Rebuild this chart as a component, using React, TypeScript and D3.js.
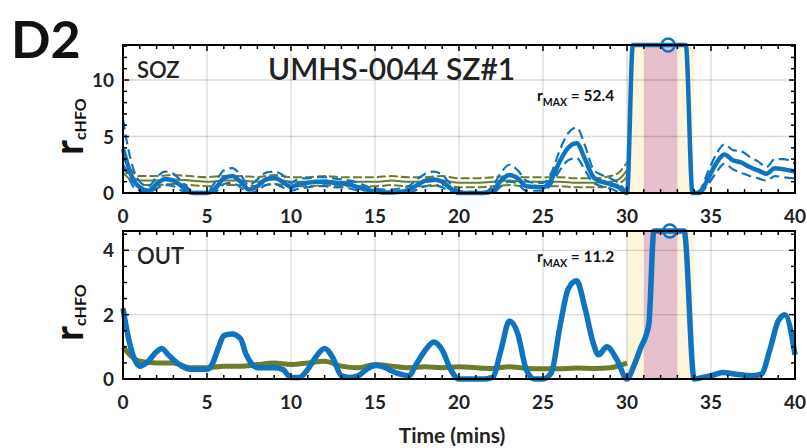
import React from "react";
import * as d3 from "d3";

// time axis (mins)
const X_TICKS = [0, 5, 10, 15, 20, 25, 30, 35, 40];

// SOZ channel, normalised cHFO rate + bounds (clipped at rMAX/4)
const SOZ_T = [
  0, 0.3, 0.6, 1, 1.5, 2, 2.5, 3, 3.5, 4,
  4.5, 5, 5.5, 6, 6.5, 7, 7.5, 8, 8.5, 9,
  9.5, 10, 10.5, 11, 11.5, 12, 12.5, 13, 13.5, 14,
  14.5, 15, 15.5, 16, 16.5, 17, 17.5, 18, 18.5, 19,
  19.5, 20, 20.5, 21, 21.5, 22, 22.5, 23, 23.5, 24,
  24.5, 25, 25.5, 26, 26.5, 27, 27.5, 28, 28.5, 29,
  29.5, 30, 30.35, 31, 32, 33, 33.5, 33.9, 34.3, 34.8,
  35.3, 35.8, 36.3, 36.8, 37.3, 37.8, 38.3, 38.8, 39.3, 40,
];
const SOZ_MEAN = [
  3.9, 2.4, 1.2, 0.5, 0.2, 0.8, 1.25, 1.1, 0.6, 0.05,
  0, 0, 0.4, 1.3, 1.5, 1.0, 0.3, 0.6, 1.2, 1.35,
  1.0, 0.55, 0.8, 0.9, 1.0, 1.0, 0.9, 0.85, 0.75, 0.5,
  0.3, 0.15, 0.05, 0.05, 0.1, 0.25, 0.7, 1.1, 1.2, 1.0,
  0.4, 0, 0, 0, 0, 0.2, 1.1, 1.6, 1.3, 0.6,
  0.55, 0.5, 1.2, 2.8, 4.0, 4.4, 3.0, 1.4, 1.0, 0.8,
  0.5, 0, 13.1, 13.1, 13.1, 13.1, 13.1, 0, 0, 1.2,
  2.6, 3.4, 2.9, 2.7, 2.3, 2.0, 1.7, 2.2, 2.1, 1.9,
];
const SOZ_HI = [
  6.5, 4.0, 2.2, 1.0, 0.6, 1.4, 1.9, 1.7, 1.0, 0.3,
  0.1, 0.1, 1.0, 2.0, 2.2, 1.6, 0.7, 1.2, 1.8, 1.9,
  1.6, 0.9, 1.3, 1.3, 1.4, 1.4, 1.3, 1.2, 1.1, 0.9,
  0.6, 0.4, 0.3, 0.3, 0.4, 0.6, 1.2, 1.7, 1.9, 1.6,
  0.8, 0.2, 0.1, 0.1, 0.1, 0.6, 1.8, 2.5, 2.0, 1.1,
  0.9, 0.9, 1.8, 3.8, 5.3, 5.8, 4.2, 2.1, 1.6, 1.3,
  0.9, 0.2, 13.1, 13.1, 13.1, 13.1, 13.1, 0, 0.2, 1.8,
  3.4, 4.3, 3.8, 3.7, 3.2, 2.8, 2.3, 3.0, 3.0, 2.6,
];
const SOZ_LO = [
  2.5, 1.5, 0.6, 0.2, 0, 0.4, 0.7, 0.6, 0.2, 0,
  0, 0, 0.1, 0.8, 0.9, 0.5, 0, 0.2, 0.7, 0.8,
  0.5, 0.2, 0.4, 0.5, 0.6, 0.6, 0.5, 0.5, 0.4, 0.2,
  0, 0, 0, 0, 0, 0, 0.3, 0.6, 0.7, 0.5,
  0.1, 0, 0, 0, 0, 0, 0.6, 1.0, 0.8, 0.2,
  0.2, 0.2, 0.8, 2.0, 2.9, 3.1, 2.0, 0.9, 0.6, 0.4,
  0.1, 0, 13.1, 13.1, 13.1, 13.1, 13.1, 0, 0, 0.7,
  1.8, 2.6, 2.1, 1.8, 1.5, 1.3, 1.1, 1.5, 1.4, 1.3,
];

// SOZ baseline (green) up to seizure onset
const SOZ_BASE_T = [0, 0.5, 1, 2, 3, 4, 5, 6, 7, 8, 9, 10, 11, 12, 13, 14, 15, 16, 17, 18, 19, 20, 21, 22, 23, 24, 25, 26, 27, 28, 29, 29.5, 30];
const SOZ_BASE = [2.5, 1.5, 1.1, 1.1, 1.2, 1.1, 1.0, 1.1, 1.1, 1.0, 1.2, 1.0, 1.0, 1.1, 1.0, 1.0, 1.0, 1.1, 1.0, 1.0, 1.1, 0.9, 0.9, 1.0, 1.1, 1.0, 1.0, 1.0, 0.9, 0.9, 1.0, 1.2, 2.0];
const SOZ_BASE_HI = [3.2, 2.0, 1.5, 1.5, 1.6, 1.5, 1.4, 1.5, 1.5, 1.4, 1.6, 1.4, 1.4, 1.5, 1.4, 1.4, 1.4, 1.5, 1.4, 1.4, 1.5, 1.3, 1.3, 1.4, 1.5, 1.4, 1.4, 1.4, 1.3, 1.3, 1.5, 1.8, 2.7];
const SOZ_BASE_LO = [1.8, 1.1, 0.7, 0.7, 0.8, 0.7, 0.6, 0.7, 0.7, 0.6, 0.8, 0.6, 0.6, 0.7, 0.6, 0.6, 0.6, 0.7, 0.6, 0.6, 0.7, 0.5, 0.5, 0.6, 0.7, 0.6, 0.6, 0.6, 0.5, 0.5, 0.6, 0.8, 1.4];

// OUT channel
const OUT_T = [
  0, 0.2, 0.5, 1, 1.5, 2, 2.3, 2.7, 3, 3.5,
  4, 4.5, 5, 5.3, 5.7, 6, 6.5, 7, 7.3, 7.7,
  8, 8.5, 9, 9.5, 10, 10.5, 11, 11.5, 12, 12.5,
  13, 13.5, 14, 14.5, 15, 15.5, 16, 16.5, 17, 17.5,
  18, 18.5, 19, 19.5, 20, 20.5, 21, 21.5, 22, 22.5,
  23, 23.5, 24, 24.5, 25, 25.5, 26, 26.5, 27, 27.5,
  28, 28.3, 28.8, 29.4, 30, 30.4, 30.8, 31.3, 31.6, 33.4,
  34, 34.5, 35, 35.7, 36.5, 37.5, 38, 38.5, 39, 39.4,
  40,
];
const OUT_MEAN = [
  2.2, 1.6, 0.9, 0.4, 0.55, 0.85, 0.95, 0.75, 0.6, 0.4,
  0.3, 0.3, 0.3, 0.45, 1.0, 1.35, 1.4, 1.25, 0.8, 0.45,
  0.35, 0.35, 0.35, 0.3, 0.05, 0.05, 0.3, 0.7, 0.95, 0.65,
  0.1, 0.05, 0.1, 0.3, 0.42, 0.38, 0.25, 0.15, 0.1, 0.5,
  0.9, 1.15, 0.9, 0.3, 0, 0, 0, 0, 0.05, 0.9,
  1.8, 1.4, 0.3, 0, 0, 0.2, 1.6, 2.8, 3.05, 2.2,
  1.1, 0.75, 1.0, 0.6, 0, 0.4, 0.95, 1.7, 4.6, 4.6,
  0, 0.05, 0.1, 0.2, 0.15, 0.1, 0.15, 0.9, 1.8, 2.0,
  0.75,
];
const OUT_BASE_T = [0, 0.5, 1, 2, 3, 4, 5, 6, 7, 8, 9, 10, 11, 12, 13, 14, 15, 16, 17, 18, 19, 20, 21, 22, 23, 24, 25, 26, 27, 28, 29, 30];
const OUT_BASE = [1.0, 0.7, 0.55, 0.5, 0.5, 0.35, 0.35, 0.4, 0.4, 0.45, 0.5, 0.45, 0.5, 0.55, 0.4, 0.35, 0.45, 0.4, 0.35, 0.38, 0.35, 0.38, 0.35, 0.33, 0.38, 0.33, 0.32, 0.32, 0.34, 0.33, 0.35, 0.5];

// shaded windows: seizure period (yellow) and ictal core (pink)
const SZ_WINDOW = [30, 34];
const ICTAL_WINDOW = [31, 33];

const BLUE = "#0f74bf";
const GREEN = "#6b7d2a";
const FONT = "Lato, 'Open Sans', sans-serif";

const zip = (ts: number[], vs: number[]) => ts.map((t, i) => [t, vs[i]] as [number, number]);

function Panel(props: any) {
  const { top, bottom, yMax, yMinor, yMajor, tag, rmax, peakT, mean, hi, lo, base, baseHi, baseLo, baseWidth, lineWidth } = props;
  const left = 123, right = 795;
  const x = d3.scaleLinear().domain([0, 40]).range([left, right]);
  const y = d3.scaleLinear().domain([0, yMax]).range([bottom, top]);
  const line = d3.line<[number, number]>()
    .x(d => x(d[0]))
    .y(d => y(Math.min(d[1], yMax)))
    .curve(d3.curveMonotoneX);

  const xMinor = d3.range(0, 41, 1);
  const yTicks = d3.range(0, yMax + 1e-6, yMinor);
  const isMajorY = (v: number) => Math.abs(v / yMajor - Math.round(v / yMajor)) < 1e-6;

  return (
    <g>
      {/* seizure shading */}
      <rect x={x(SZ_WINDOW[0])} y={top} width={x(SZ_WINDOW[1]) - x(SZ_WINDOW[0])} height={bottom - top} fill="#fdf6dd" />
      <rect x={x(ICTAL_WINDOW[0])} y={top} width={x(ICTAL_WINDOW[1]) - x(ICTAL_WINDOW[0])} height={bottom - top} fill="#e5bfcb" />

      {/* grid */}
      {X_TICKS.slice(1, -1).map(t => (
        <line key={"gx" + t} x1={x(t)} x2={x(t)} y1={top} y2={bottom} stroke="#000" strokeOpacity={0.15} strokeWidth={1.3} />
      ))}
      {yTicks.filter(v => v > 0 && isMajorY(v)).map(v => (
        <line key={"gy" + v} x1={left} x2={right} y1={y(v)} y2={y(v)} stroke="#000" strokeOpacity={0.15} strokeWidth={1.3} />
      ))}

      {/* baseline (green) */}
      {baseHi && <path d={line(zip(base[0], baseHi)) || ""} fill="none" stroke={GREEN} strokeWidth={2} strokeDasharray="9,3" />}
      {baseLo && <path d={line(zip(base[0], baseLo)) || ""} fill="none" stroke={GREEN} strokeWidth={2} strokeDasharray="9,3" />}
      <path d={line(zip(base[0], base[1])) || ""} fill="none" stroke={GREEN} strokeWidth={baseWidth} />

      {/* channel rate (blue) */}
      {hi && <path d={line(zip(mean[0], hi)) || ""} fill="none" stroke={BLUE} strokeWidth={2.2} strokeDasharray="10,5" />}
      {lo && <path d={line(zip(mean[0], lo)) || ""} fill="none" stroke={BLUE} strokeWidth={2.2} strokeDasharray="10,5" />}
      <path d={line(zip(mean[0], mean[1])) || ""} fill="none" stroke={BLUE} strokeWidth={lineWidth} strokeLinejoin="round" />
      <circle cx={x(peakT)} cy={y(yMax)} r={6.5} fill="none" stroke={BLUE} strokeWidth={2.5} />

      {/* box + ticks */}
      <rect x={left} y={top} width={right - left} height={bottom - top} fill="none" stroke="#000" strokeWidth={2} />
      {xMinor.map(t => {
        const len = t % 5 === 0 ? 6 : 4;
        return (
          <g key={"tx" + t}>
            <line x1={x(t)} x2={x(t)} y1={bottom} y2={bottom - len} stroke="#000" strokeWidth={1.5} />
            <line x1={x(t)} x2={x(t)} y1={top} y2={top + len} stroke="#000" strokeWidth={1.5} />
          </g>
        );
      })}
      {yTicks.map(v => {
        const len = isMajorY(v) ? 6 : 4;
        return (
          <g key={"ty" + v}>
            <line x1={left} x2={left + len} y1={y(v)} y2={y(v)} stroke="#000" strokeWidth={1.5} />
            <line x1={right} x2={right - len} y1={y(v)} y2={y(v)} stroke="#000" strokeWidth={1.5} />
          </g>
        );
      })}

      {/* tick labels */}
      {X_TICKS.map(t => (
        <text key={"lx" + t} x={x(t)} y={bottom + 30} textAnchor="middle" fontSize={19} fontWeight="bold" fill="#222">{t}</text>
      ))}
      {yTicks.filter(isMajorY).map(v => (
        <text key={"ly" + v} x={114} y={y(v) + 7} textAnchor="end" fontSize={19} fontWeight="bold" fill="#222">{v}</text>
      ))}

      {/* y label */}
      <text transform={`translate(83,${(top + bottom) / 2 + 36}) rotate(-90)`} fill="#111" fontWeight="bold">
        <tspan fontSize={40}>r</tspan>
        <tspan fontSize={16} dy={3}>cHFO</tspan>
      </text>

      <text x={137} y={top + 33} fontSize={22} fontWeight={600} fill="#222">{tag}</text>
      <text x={537} y={props.rmaxY} fontSize={15.5} fontWeight="bold" fill="#111">
        r<tspan fontSize={10.5} dy={5}>MAX</tspan><tspan dy={-5}> = {rmax}</tspan>
      </text>
    </g>
  );
}

export default function App() {
  return (
    <svg width={807} height={448} style={{ position: "absolute", left: 0, top: 0, background: "#fff", fontFamily: FONT }}>
      <text x={11} y={58} fontSize={52} fontWeight="bold" fill="#111">D2</text>
      <Panel
        top={45} bottom={193} yMax={13.1} yMinor={1} yMajor={5}
        tag="SOZ" rmax="52.4" rmaxY={101} peakT={32.45}
        mean={[SOZ_T, SOZ_MEAN]} hi={SOZ_HI} lo={SOZ_LO}
        base={[SOZ_BASE_T, SOZ_BASE]} baseHi={SOZ_BASE_HI} baseLo={SOZ_BASE_LO}
        baseWidth={2} lineWidth={4.5}
      />
      <text x={268} y={80} fontSize={30} fontWeight={600} fill="#222">UMHS-0044 SZ#1</text>
      <Panel
        top={231} bottom={379} yMax={4.6} yMinor={0.5} yMajor={2}
        tag="OUT" rmax="11.2" rmaxY={262} peakT={32.55}
        mean={[OUT_T, OUT_MEAN]}
        base={[OUT_BASE_T, OUT_BASE]}
        baseWidth={5} lineWidth={5.5}
      />
      <text x={452} y={443} textAnchor="middle" fontSize={21} fontWeight="bold" fill="#222">Time (mins)</text>
    </svg>
  );
}
